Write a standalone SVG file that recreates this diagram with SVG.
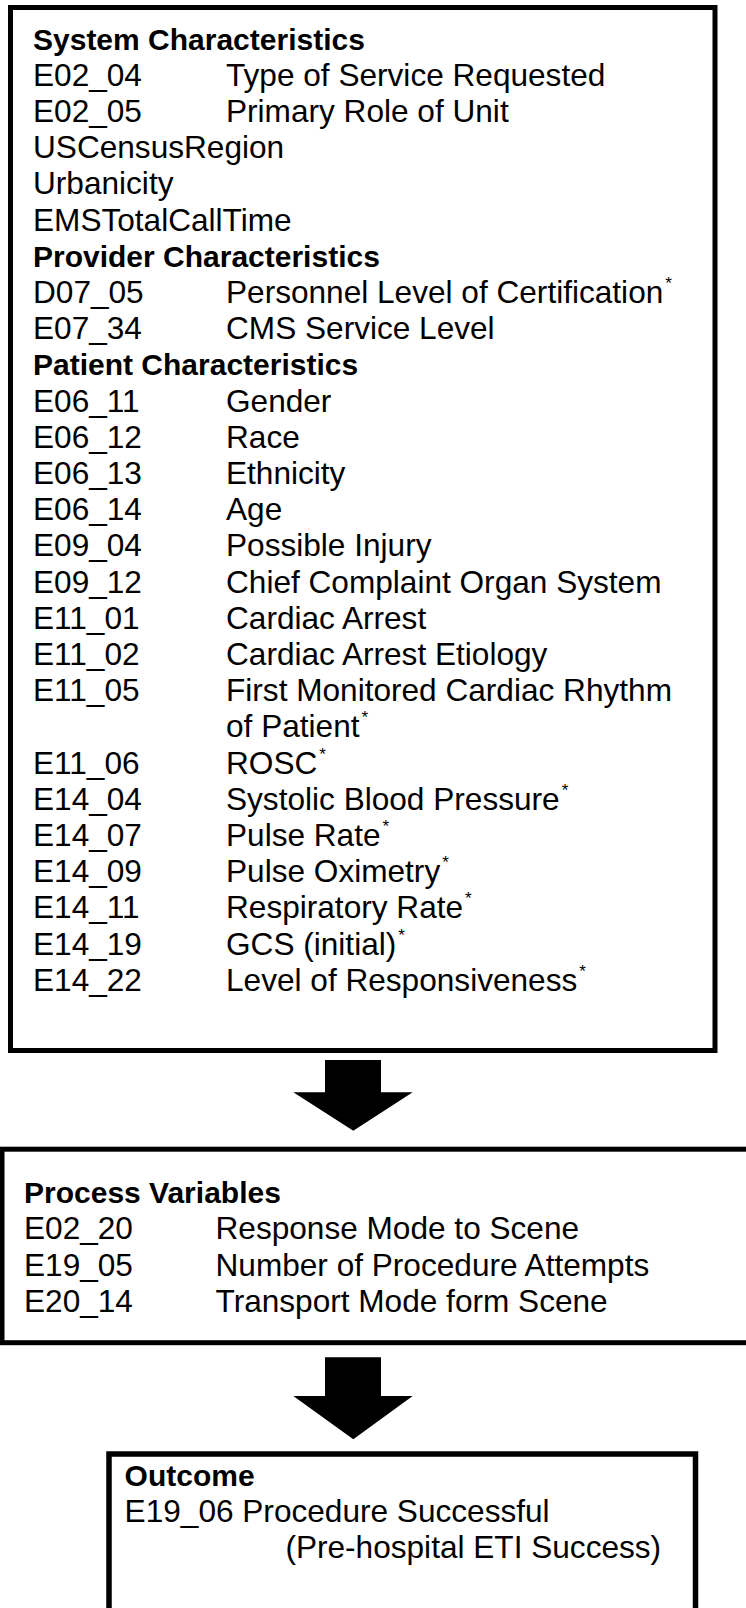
<svg xmlns="http://www.w3.org/2000/svg" width="746" height="1608" viewBox="0 0 746 1608">
<style>
.box{fill:#fff;stroke:#000;stroke-width:5}
.t{font-family:"Liberation Sans",Arial,sans-serif;font-size:31.6px;fill:#000}
.b{font-family:"Liberation Sans",Arial,sans-serif;font-size:30px;font-weight:bold;fill:#000}
.s{font-size:17px}
.arrow{fill:#000}
</style>
<rect width="746" height="1608" fill="#fff"/>
<g id="input-characteristics">
<rect class="box" x="10.5" y="7.5" width="704.5" height="1043"/>
<text class="b" x="33" y="49.5">System Characteristics</text>
<text class="t" x="33" y="85.7">E02_04</text><text class="t" x="226" y="85.7">Type of Service Requested</text>
<text class="t" x="33" y="121.9">E02_05</text><text class="t" x="226" y="121.9">Primary Role of Unit</text>
<text class="t" x="33" y="158.1">USCensusRegion</text>
<text class="t" x="33" y="194.3">Urbanicity</text>
<text class="t" x="33" y="230.5">EMSTotalCallTime</text>
<text class="b" x="33" y="266.7">Provider Characteristics</text>
<text class="t" x="33" y="302.9">D07_05</text><text class="t" x="226" y="302.9">Personnel Level of Certification<tspan class="s" dx="2" dy="-14">*</tspan></text>
<text class="t" x="33" y="339.1">E07_34</text><text class="t" x="226" y="339.1">CMS Service Level</text>
<text class="b" x="33" y="375.3">Patient Characteristics</text>
<text class="t" x="33" y="411.5">E06_11</text><text class="t" x="226" y="411.5">Gender</text>
<text class="t" x="33" y="447.7">E06_12</text><text class="t" x="226" y="447.7">Race</text>
<text class="t" x="33" y="483.9">E06_13</text><text class="t" x="226" y="483.9">Ethnicity</text>
<text class="t" x="33" y="520.1">E06_14</text><text class="t" x="226" y="520.1">Age</text>
<text class="t" x="33" y="556.3">E09_04</text><text class="t" x="226" y="556.3">Possible Injury</text>
<text class="t" x="33" y="592.5">E09_12</text><text class="t" x="226" y="592.5">Chief Complaint Organ System</text>
<text class="t" x="33" y="628.7">E11_01</text><text class="t" x="226" y="628.7">Cardiac Arrest</text>
<text class="t" x="33" y="664.9">E11_02</text><text class="t" x="226" y="664.9">Cardiac Arrest Etiology</text>
<text class="t" x="33" y="701.1">E11_05</text><text class="t" x="226" y="701.1">First Monitored Cardiac Rhythm</text>
<text class="t" x="226" y="737.3">of Patient<tspan class="s" dx="2" dy="-14">*</tspan></text>
<text class="t" x="33" y="773.5">E11_06</text><text class="t" x="226" y="773.5">ROSC<tspan class="s" dx="2" dy="-14">*</tspan></text>
<text class="t" x="33" y="809.7">E14_04</text><text class="t" x="226" y="809.7">Systolic Blood Pressure<tspan class="s" dx="2" dy="-14">*</tspan></text>
<text class="t" x="33" y="845.9">E14_07</text><text class="t" x="226" y="845.9">Pulse Rate<tspan class="s" dx="2" dy="-14">*</tspan></text>
<text class="t" x="33" y="882.1">E14_09</text><text class="t" x="226" y="882.1">Pulse Oximetry<tspan class="s" dx="2" dy="-14">*</tspan></text>
<text class="t" x="33" y="918.3">E14_11</text><text class="t" x="226" y="918.3">Respiratory Rate<tspan class="s" dx="2" dy="-14">*</tspan></text>
<text class="t" x="33" y="954.5">E14_19</text><text class="t" x="226" y="954.5">GCS (initial)<tspan class="s" dx="2" dy="-14">*</tspan></text>
<text class="t" x="33" y="990.7">E14_22</text><text class="t" x="226" y="990.7">Level of Responsiveness<tspan class="s" dx="2" dy="-14">*</tspan></text>
</g>
<g id="process-variables">
<rect class="box" x="2" y="1149.2" width="760" height="193.5"/>
<text class="b" x="24" y="1202.7">Process Variables</text>
<text class="t" x="24" y="1239.2">E02_20</text><text class="t" x="215.5" y="1239.2">Response Mode to Scene</text>
<text class="t" x="24" y="1275.7">E19_05</text><text class="t" x="215.5" y="1275.7">Number of Procedure Attempts</text>
<text class="t" x="24" y="1312">E20_14</text><text class="t" x="215.5" y="1312">Transport Mode form Scene</text>
</g>
<g id="outcome">
<rect class="box" x="109" y="1454" width="586.5" height="170" style="stroke-width:5.5"/>
<text class="b" x="124.6" y="1485.7">Outcome</text>
<text class="t" x="124.6" y="1521.7">E19_06 Procedure Successful</text>
<text class="t" x="285.4" y="1557.7">(Pre-hospital ETI Success)</text>
</g>
<g id="connectors">
<polygon class="arrow" points="325,1060 381,1060 381,1092.3 412.7,1092.3 353.3,1130.7 293.3,1092.3 325,1092.3"/>
<polygon class="arrow" points="325,1357.3 381,1357.3 381,1396 412.7,1396 353.3,1439.3 293.3,1396 325,1396"/>
</g>
</svg>
